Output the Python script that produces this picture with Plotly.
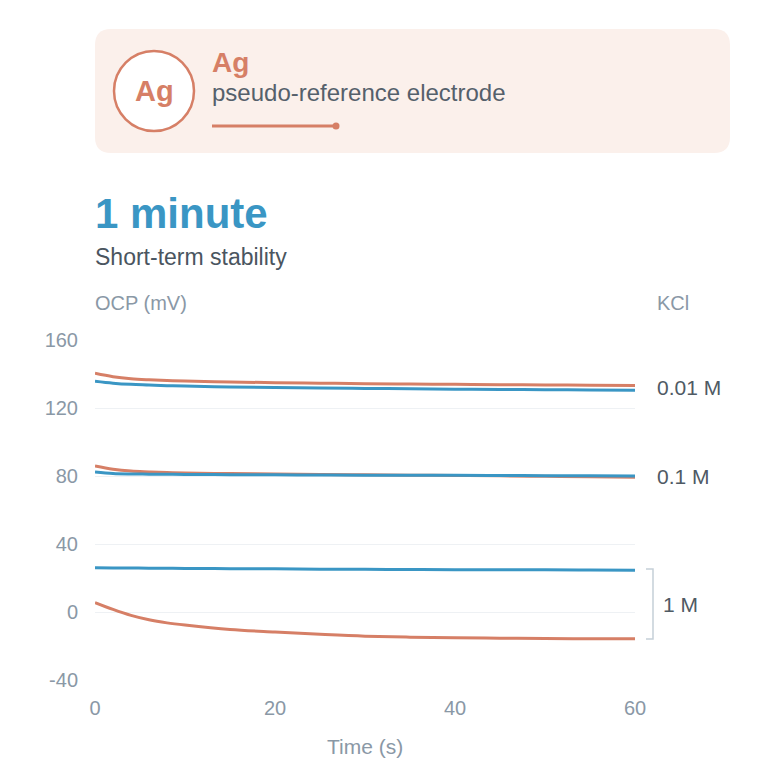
import plotly.graph_objects as go

# time axis (s) shared by all traces
time_s = [0, 2, 4, 6, 8, 10, 15, 20, 25, 30, 35, 40, 45, 50, 55, 60]

# OCP in mV
ag_001 = [140.4, 138.4, 137.2, 136.6, 136.2, 135.9, 135.3, 134.9, 134.6, 134.3, 134.1, 133.9, 133.7, 133.6, 133.4, 133.3]
ref_001 = [135.7, 134.6, 133.9, 133.5, 133.1, 132.9, 132.4, 132.0, 131.7, 131.5, 131.3, 131.1, 130.9, 130.8, 130.6, 130.5]
ag_01 = [85.9, 84.0, 82.9, 82.4, 82.0, 81.8, 81.4, 81.2, 80.9, 80.7, 80.5, 80.3, 80.1, 79.8, 79.5, 79.3]
ref_01 = [82.4, 81.5, 81.2, 81.1, 81.0, 80.9, 80.8, 80.7, 80.6, 80.5, 80.45, 80.4, 80.3, 80.2, 80.1, 80.0]
ag_1 = [5.5, 1.5, -2.0, -4.6, -6.4, -7.7, -10.3, -11.8, -13.1, -14.2, -14.8, -15.2, -15.4, -15.6, -15.7, -15.8]
ref_1 = [26.0, 25.9, 25.85, 25.8, 25.7, 25.65, 25.5, 25.4, 25.2, 25.1, 25.0, 24.9, 24.85, 24.8, 24.7, 24.6]

kcl_labels = ["0.01 M", "0.1 M", "1 M"]
y_ticks = [-40, 0, 40, 80, 120, 160]
y_ticktext = ["-40", "0", "40", "80", "120", "160"]
x_ticks = [0, 20, 40, 60]

ORANGE = "#D67F66"
BLUE = "#3A96C4"
FONT = "Liberation Sans, Arial, sans-serif"

OFF = 8  # page margin of the html body
W, H = 780 - OFF, 780 - OFF
L, R, T, B = 95, 635, 340, 680  # plot area in page pixels


def px(x):
    return (x - L) / (R - L)


def py(y):
    return (B - y) / (B - T)


fig = go.Figure()
for vals, col in [(ag_001, ORANGE), (ref_001, BLUE), (ag_01, ORANGE),
                  (ref_01, BLUE), (ref_1, BLUE), (ag_1, ORANGE)]:
    fig.add_trace(go.Scatter(x=time_s, y=vals, mode="lines",
                             line=dict(color=col, width=3, shape="spline"),
                             showlegend=False, hoverinfo="skip"))

# rounded card at the top
x0, x1, y0, y1, r = 95, 730, 29, 153, 16
card = (f"M {px(x0 + r)} {py(y0)} L {px(x1 - r)} {py(y0)} "
        f"Q {px(x1)} {py(y0)} {px(x1)} {py(y0 + r)} L {px(x1)} {py(y1 - r)} "
        f"Q {px(x1)} {py(y1)} {px(x1 - r)} {py(y1)} L {px(x0 + r)} {py(y1)} "
        f"Q {px(x0)} {py(y1)} {px(x0)} {py(y1 - r)} L {px(x0)} {py(y0 + r)} "
        f"Q {px(x0)} {py(y0)} {px(x0 + r)} {py(y0)} Z")
shapes = [
    dict(type="path", path=card, xref="paper", yref="paper",
         fillcolor="#FBF0EB", line=dict(width=0), layer="below"),
    dict(type="circle", xref="paper", yref="paper",
         x0=px(114), x1=px(194), y0=py(131), y1=py(51),
         fillcolor="white", line=dict(color=ORANGE, width=2.5)),
    dict(type="line", xref="paper", yref="paper",
         x0=px(212), x1=px(336), y0=py(126), y1=py(126),
         line=dict(color=ORANGE, width=3)),
    dict(type="circle", xref="paper", yref="paper",
         x0=px(332.5), x1=px(339.5), y0=py(129.5), y1=py(122.5),
         fillcolor=ORANGE, line=dict(width=0)),
    # bracket for 1 M
    dict(type="path", xref="paper", yref="paper",
         path=f"M {px(646)} {py(569)} L {px(653)} {py(569)} L {px(653)} {py(639)} L {px(646)} {py(639)}",
         line=dict(color="#C5D0D8", width=1.5)),
]


def note(text, x, y, size, color, anchor="left", bold=False):
    return dict(text=f"<b>{text}</b>" if bold else text, x=px(x), y=py(y),
                xref="paper", yref="paper", xanchor=anchor, yanchor="middle",
                showarrow=False, font=dict(family=FONT, size=size, color=color))


annotations = [
    note("Ag", 154, 91, 29, ORANGE, anchor="center", bold=True),
    note("Ag", 210, 62, 28, ORANGE, bold=True),
    note("pseudo-reference electrode", 210, 93, 24, "#55606B"),
    note("1 minute", 93, 213, 42, BLUE, bold=True),
    note("Short-term stability", 93, 257, 23, "#4A5560"),
    note("OCP (mV)", 93, 303, 20, "#8A98A6"),
    note("KCl", 655, 303, 20, "#8A98A6"),
    note(kcl_labels[0], 655, 387, 21, "#4F5A64"),
    note(kcl_labels[1], 655, 476, 21, "#4F5A64"),
    note(kcl_labels[2], 661, 604, 21, "#4F5A64"),
    note("Time (s)", 365, 746, 21, "#8A98A6", anchor="center"),
]

fig.update_layout(
    width=W, height=H,
    margin=dict(l=L - OFF, r=W - (R - OFF), t=T - OFF, b=H - (B - OFF)),
    plot_bgcolor="white", paper_bgcolor="white",
    shapes=shapes, annotations=annotations,
    font=dict(family=FONT),
)
fig.update_xaxes(range=[0, 60], tickvals=x_ticks, showgrid=False, zeroline=False,
                 showline=False, ticks="", ticklabelstandoff=14,
                 tickfont=dict(family=FONT, size=20, color="#8A98A6"))
fig.update_yaxes(range=[-40, 160], tickvals=y_ticks, ticktext=y_ticktext,
                 gridcolor="#EEF1F4", gridwidth=1,
                 zeroline=False, showline=False, ticks="", ticklabelstandoff=16,
                 tickfont=dict(family=FONT, size=20, color="#8A98A6"))

fig.write_html("out.html")
